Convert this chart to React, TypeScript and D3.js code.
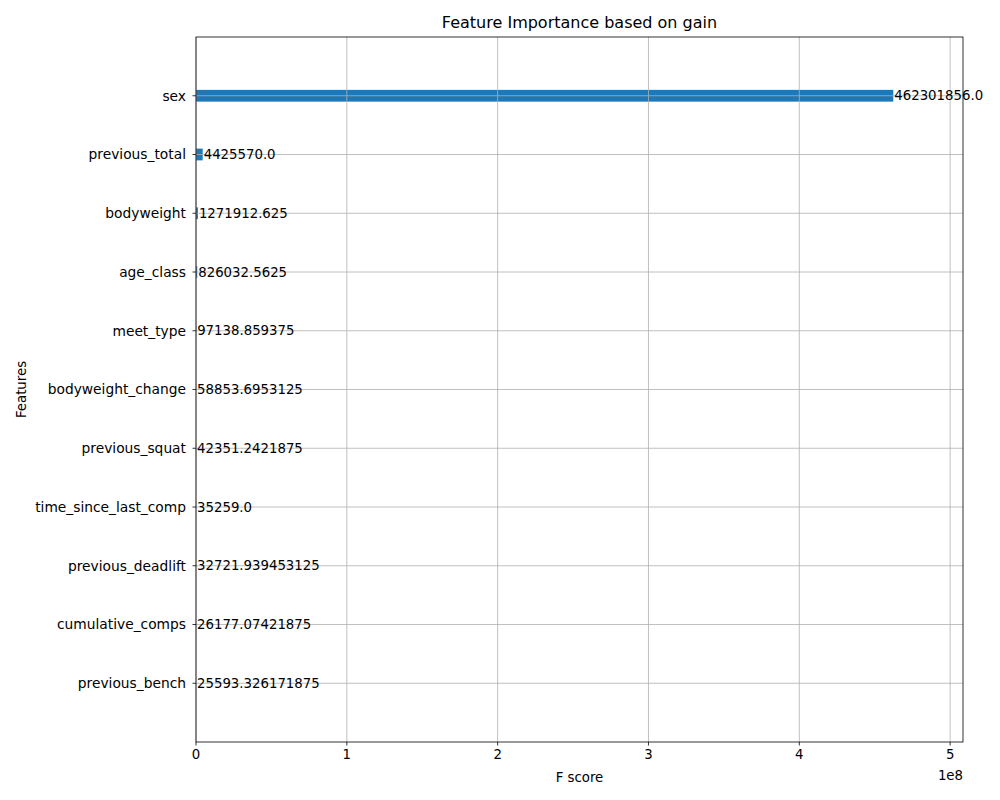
import * as d3 from "d3";

const features = [
  "previous_bench",
  "cumulative_comps",
  "previous_deadlift",
  "time_since_last_comp",
  "previous_squat",
  "bodyweight_change",
  "meet_type",
  "age_class",
  "bodyweight",
  "previous_total",
  "sex",
];
const scores = [
  25593.326171875, 26177.07421875, 32721.939453125, 35259.0, 42351.2421875,
  58853.6953125, 97138.859375, 826032.5625, 1271912.625, 4425570.0, 462301856.0,
];
const labels = [
  "25593.326171875", "26177.07421875", "32721.939453125", "35259.0", "42351.2421875",
  "58853.6953125", "97138.859375", "826032.5625", "1271912.625", "4425570.0", "462301856.0",
];
const xTicks = [0, 1e8, 2e8, 3e8, 4e8, 5e8];

export default function App() {
  const W = 1000, H = 800;
  const m = { left: 196, right: 963, top: 37, bottom: 742 };
  const x = d3.scaleLinear().domain([0, d3.max(scores)! * 1.1]).range([m.left, m.right]);
  const y = d3.scaleLinear().domain([-1, features.length]).range([m.bottom, m.top]);
  const bh = y(0) - y(0.2);
  const font = "DejaVu Sans, sans-serif";
  const fs = 13.3;

  return (
    <svg width={W} height={H} style={{ position: "absolute", left: 0, top: 0 }} fontFamily={font}>
      <rect width={W} height={H} fill="white" />
      {features.map((f, i) => (
        <rect key={"b" + f} x={x(0)} y={y(i) - bh / 2} width={x(scores[i]) - x(0)} height={bh} fill="#1f77b4" />
      ))}
      {xTicks.map((t) => (
        <line key={"gx" + t} x1={x(t)} x2={x(t)} y1={m.top} y2={m.bottom} stroke="#b0b0b0" strokeWidth={0.8} />
      ))}
      {features.map((f, i) => (
        <line key={"gy" + f} x1={m.left} x2={m.right} y1={y(i)} y2={y(i)} stroke="#b0b0b0" strokeWidth={0.8} />
      ))}
      {features.map((f, i) => (
        <text key={"l" + f} x={x(scores[i]) + 1} y={y(i)} dy="0.35em" fontSize={fs} fill="black">
          {labels[i]}
        </text>
      ))}
      <rect x={m.left} y={m.top} width={m.right - m.left} height={m.bottom - m.top} fill="none" stroke="black" strokeWidth={0.8} />
      {xTicks.map((t) => (
        <g key={"tx" + t}>
          <line x1={x(t)} x2={x(t)} y1={m.bottom} y2={m.bottom + 3.5} stroke="black" strokeWidth={0.8} />
          <text x={x(t)} y={m.bottom + 17} textAnchor="middle" fontSize={fs}>{t / 1e8}</text>
        </g>
      ))}
      <text x={m.right} y={m.bottom + 38} textAnchor="end" fontSize={fs}>1e8</text>
      {features.map((f, i) => (
        <g key={"ty" + f}>
          <line x1={m.left - 3.5} x2={m.left} y1={y(i)} y2={y(i)} stroke="black" strokeWidth={0.8} />
          <text x={m.left - 10} y={y(i)} dy="0.35em" textAnchor="end" fontSize={13.8}>{f}</text>
        </g>
      ))}
      <text x={(m.left + m.right) / 2} y={m.bottom + 40} textAnchor="middle" fontSize={fs}>F score</text>
      <text transform={`translate(26,${(m.top + m.bottom) / 2}) rotate(-90)`} textAnchor="middle" fontSize={fs}>Features</text>
      <text x={(m.left + m.right) / 2} y={m.top - 9} textAnchor="middle" fontSize={16}>Feature Importance based on gain</text>
    </svg>
  );
}
